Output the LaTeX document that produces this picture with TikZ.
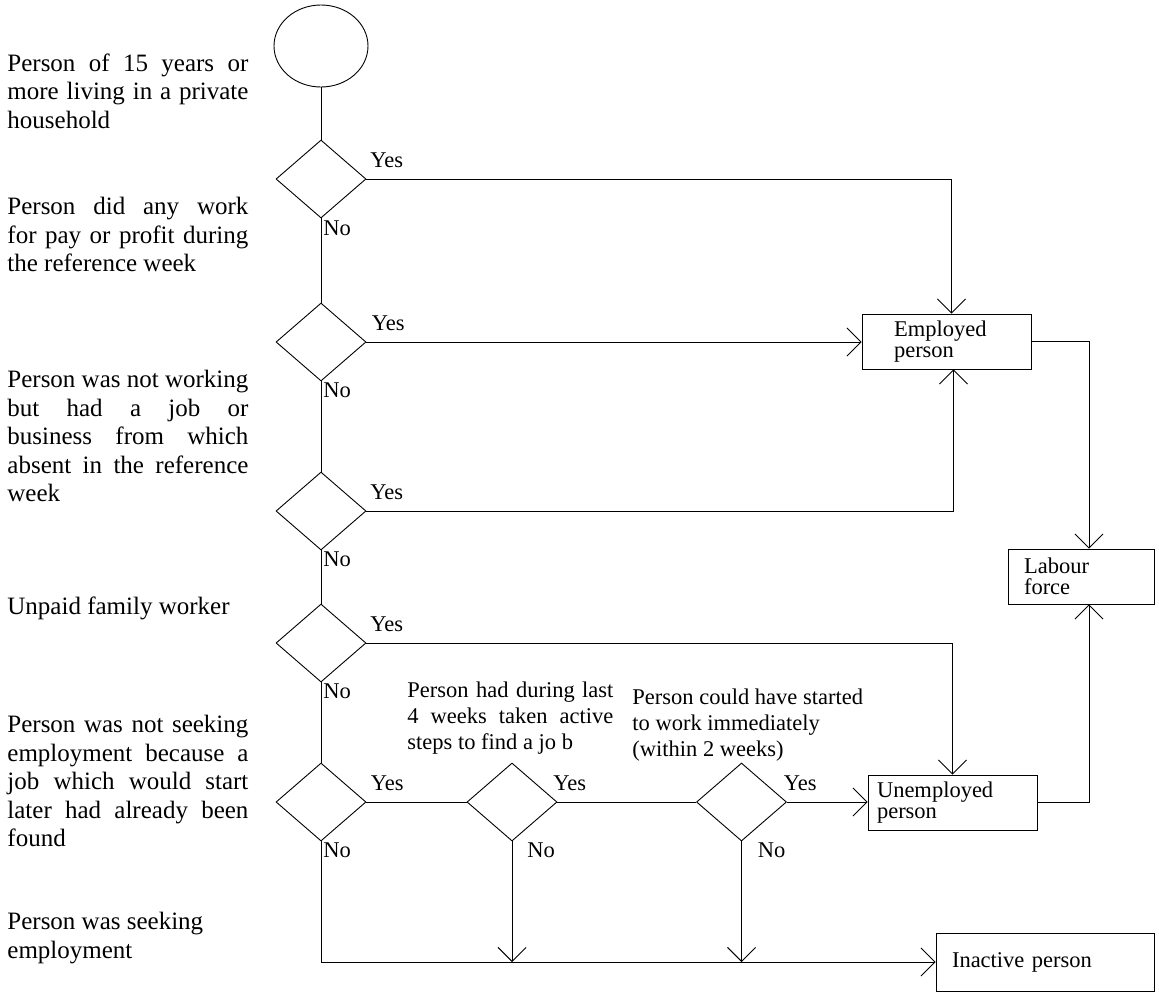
\documentclass[tikz,border=0pt]{standalone}
\usepackage{fontspec}
\setmainfont{Liberation Serif}
\usetikzlibrary{shapes.geometric,arrows.meta,calc}
\newcommand{\jl}[2]{\makebox[#1][s]{#2}}
\begin{document}
\begin{tikzpicture}[x=1pt,y=-1pt,line width=0.9pt,
  dia/.style={draw, diamond, minimum width=90pt, minimum height=78pt, inner sep=0pt},
  bx/.style={draw, rectangle, inner ysep=0pt, minimum height=55pt, align=left,
     font=\fontsize{22.5}{21}\selectfont},
  side/.style={anchor=north west, inner sep=0pt, align=left,
     font=\fontsize{25}{28.5}\selectfont},
  mid/.style={anchor=north west, inner sep=0pt, align=left,
     font=\fontsize{22.5}{26}\selectfont},
  lbl/.style={inner sep=0pt, font=\fontsize{22.5}{26}\selectfont},
  arr/.style={-{Straight Barb[length=14pt,width=28pt]}}]
\useasboundingbox (0,0) rectangle (1159,994);

% left column texts
\node[side] (t1) at (7,53) {\jl{241pt}{Person of 15 years or}\\\jl{241pt}{more living in a private}\\household};
\node[side] (t2) at (7,197) {\jl{241pt}{Person did any work}\\\jl{241pt}{for pay or profit during}\\the reference week};
\node[side] (t3) at (7,370) {\jl{241pt}{Person was not working}\\\jl{241pt}{but had a job or}\\\jl{241pt}{business from which}\\\jl{241pt}{absent in the reference}\\week};
\node[side] (t4) at (7,596) {Unpaid family worker};
\node[side] (t5) at (7,715) {\jl{241pt}{Person was not seeking}\\\jl{241pt}{employment because a}\\\jl{241pt}{job which would start}\\\jl{241pt}{later had already been}\\found};
\node[side] (t6) at (7,912) {Person was seeking\\employment};

% middle texts
\node[mid] (t7) at (407,681) {\jl{206pt}{Person had during last}\\\jl{206pt}{4 weeks taken active}\\steps to find a jo b};
\node[mid] (t8) at (632,688) {Person could have started\\to work immediately\\(within 2 weeks)};

% start
\node[draw, ellipse, minimum width=94pt, minimum height=82pt, inner sep=0pt] (c0) at (321,46) {};

% decisions
\node[dia] (d1) at (321,179) {};
\node[dia] (d2) at (321,342) {};
\node[dia] (d3) at (321,511) {};
\node[dia] (d4) at (321,643) {};
\node[dia] (d5) at (321,802) {};
\node[dia] (d6) at (512,802) {};
\node[dia] (d7) at (741.5,802) {};

% outcome boxes
\node[bx, text width=105pt, inner xsep=32pt] (emp) at (946.5,341.5) {Employed\\person};
\node[bx, text width=114pt, inner xsep=16pt] (lab) at (1081,576.5) {Labour\\force};
\node[bx, text width=151pt, inner xsep=9pt] (unemp) at (952.5,802.5) {Unemployed\\person};
\node[bx, text width=186pt, inner xsep=16pt, minimum height=58pt] (inact) at (1045,962) {Inactive person};

% vertical spine
\draw (c0.south) -- (d1.north);
\draw (d1.south) -- (d2.north);
\draw (d2.south) -- (d3.north);
\draw (d3.south) -- (d4.north);
\draw (d4.south) -- (d5.north);

% yes branches
\draw[arr] (d1.east) -| ([xshift=5pt]emp.north);
\draw[arr] (d2.east) -- (d2.east -| emp.west);
\draw[arr] (d3.east) -| ([xshift=7pt]emp.south);
\draw[arr] (d4.east) -| (unemp.north);
\draw (d5.east) -- (d6.west);
\draw (d6.east) -- (d7.west);
\draw[arr] (d7.east) -- (d7.east -| unemp.west);
\draw[arr] (emp.east) -| ([xshift=8pt]lab.north);
\draw[arr] (unemp.east) -| ([xshift=8pt]lab.south);

% no branches to inactive
\draw[arr] (d5.south) |- (inact.west);
\draw[arr] (d6.south) -- (d6.south |- inact.west);
\draw[arr] (d7.south) -- (d7.south |- inact.west);

% labels
\node[lbl, anchor=west] (y1) at ($(d1.east)+(3.5,-19)$) {Yes};
\node[lbl, anchor=west] (y2) at ($(d2.east)+(5,-19)$) {Yes};
\node[lbl, anchor=west] (y3) at ($(d3.east)+(3.5,-19)$) {Yes};
\node[lbl, anchor=west] (y4) at ($(d4.east)+(3.5,-19)$) {Yes};
\node[lbl, anchor=west] (y5) at ($(d5.east)+(4,-19)$) {Yes};
\node[lbl, anchor=west] (y6) at ($(d6.east)+(-4.5,-19)$) {Yes};
\node[lbl, anchor=west] (y7) at ($(d7.east)+(-3.5,-19)$) {Yes};
\node[lbl, anchor=west] (n1) at ($(d1.south)+(2,10)$) {No};
\node[lbl, anchor=west] (n2) at ($(d2.south)+(2,9)$) {No};
\node[lbl, anchor=west] (n3) at ($(d3.south)+(2,9)$) {No};
\node[lbl, anchor=west] (n4) at ($(d4.south)+(2,9)$) {No};
\node[lbl, anchor=west] (n5) at ($(d5.south)+(2,9)$) {No};
\node[lbl, anchor=west] (n6) at ($(d6.south)+(15,9)$) {No};
\node[lbl, anchor=west] (n7) at ($(d7.south)+(16,9)$) {No};
\end{tikzpicture}
\end{document}
